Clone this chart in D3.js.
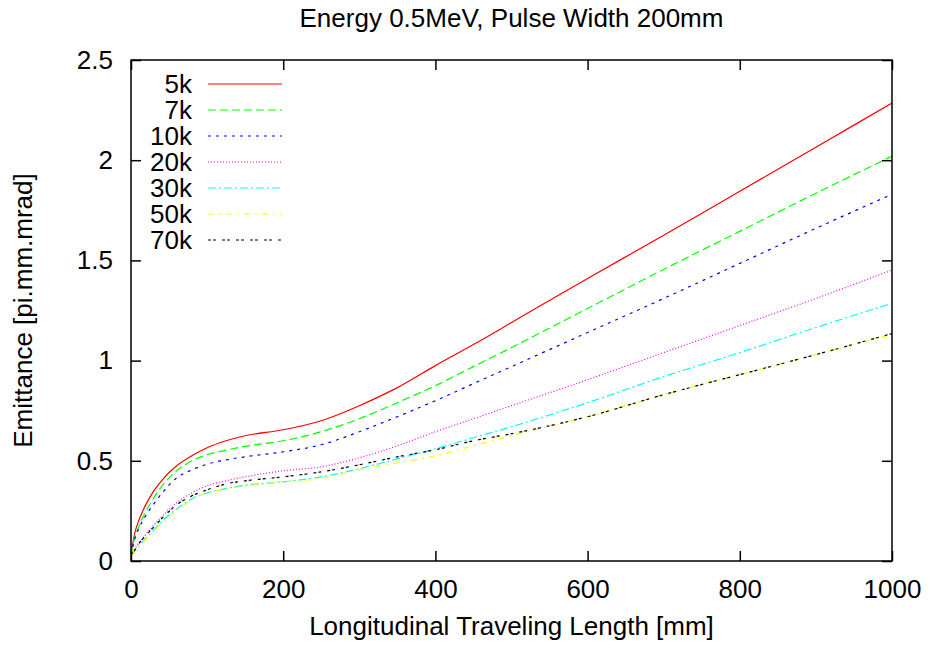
<!DOCTYPE html>
<html>
<head>
<meta charset="utf-8">
<script src="https://cdn.jsdelivr.net/npm/d3@7"></script>
<style>
  body { margin: 0; background: #fff; }
  svg { font-family: "Liberation Sans", Arial, sans-serif; }
</style>
</head>
<body>
<div class="chart"></div>
<script>
//Data
var lengths = [0, 5, 10, 20, 30, 40, 60, 80, 100, 125, 150, 200, 250, 300, 350, 400, 450, 500, 600, 700, 800, 900, 1000];

var seriesNames = ["5k", "7k", "10k", "20k", "30k", "50k", "70k"];

var em5k  = [0.03, 0.14, 0.20, 0.285, 0.35, 0.40, 0.475, 0.525, 0.565, 0.60, 0.625, 0.655, 0.70, 0.775, 0.865, 0.975, 1.08, 1.19, 1.41, 1.625, 1.845, 2.065, 2.285];
var em7k  = [0.03, 0.12, 0.17, 0.25, 0.315, 0.37, 0.45, 0.50, 0.53, 0.553, 0.572, 0.60, 0.645, 0.71, 0.79, 0.875, 0.97, 1.065, 1.26, 1.455, 1.645, 1.835, 2.02];
var em10k = [0.03, 0.11, 0.16, 0.23, 0.285, 0.335, 0.415, 0.455, 0.483, 0.505, 0.52, 0.545, 0.58, 0.645, 0.72, 0.80, 0.885, 0.97, 1.14, 1.31, 1.485, 1.66, 1.83];
var em20k = [0.03, 0.06, 0.09, 0.135, 0.18, 0.22, 0.29, 0.34, 0.375, 0.40, 0.42, 0.45, 0.47, 0.515, 0.575, 0.645, 0.71, 0.775, 0.905, 1.04, 1.175, 1.31, 1.452];
var em30k = [0.03, 0.05, 0.075, 0.115, 0.155, 0.195, 0.26, 0.31, 0.34, 0.362, 0.378, 0.395, 0.42, 0.46, 0.51, 0.56, 0.615, 0.67, 0.79, 0.92, 1.04, 1.165, 1.286];
var em50k = [0.03, 0.045, 0.07, 0.11, 0.15, 0.185, 0.25, 0.305, 0.34, 0.36, 0.374, 0.395, 0.412, 0.455, 0.49, 0.525, 0.575, 0.625, 0.72, 0.83, 0.93, 1.03, 1.13];
var em70k = [0.03, 0.055, 0.085, 0.13, 0.17, 0.21, 0.28, 0.325, 0.355, 0.385, 0.40, 0.42, 0.445, 0.48, 0.52, 0.555, 0.60, 0.635, 0.72, 0.83, 0.93, 1.03, 1.135];

var xTicks = [0, 200, 400, 600, 800, 1000];
var yTicks = [0, 0.5, 1, 1.5, 2, 2.5];

//Styles for each series
var colors = ["#ff0000", "#00ff00", "#0000ff", "#ff00ff", "#00ffff", "#ffff00", "#000000"];
var dashes = ["none", "8,4", "3,5", "1,2", "8,3,2,3", "6,5,2,5", "3,2,3,6"];

var allValues = [em5k, em7k, em10k, em20k, em30k, em50k, em70k];

//Width and height
var w = 930;
var h = 648;
var margin = {top: 60, right: 38, bottom: 87, left: 131};
var fontSize = 26;

var svg = d3.select(".chart")
    .append("svg")
    .attr("width", w)
    .attr("height", h);

//Scales
var xScale = d3.scaleLinear()
    .domain([0, 1000])
    .range([margin.left, w - margin.right]);

var yScale = d3.scaleLinear()
    .domain([0, 2.5])
    .range([h - margin.bottom, margin.top]);

//Axes, ticks pointing inwards on all four sides
svg.append("g")
    .attr("transform", "translate(0, " + (h - margin.bottom) + ")")
    .call(d3.axisBottom(xScale).tickValues(xTicks).tickSizeInner(-10).tickSizeOuter(0).tickPadding(19).tickFormat(d3.format("d")));

svg.append("g")
    .attr("transform", "translate(0, " + margin.top + ")")
    .call(d3.axisTop(xScale).tickValues(xTicks).tickSizeInner(-10).tickSizeOuter(0).tickFormat(""));

svg.append("g")
    .attr("transform", "translate(" + margin.left + ", 0)")
    .call(d3.axisLeft(yScale).tickValues(yTicks).tickSizeInner(-10).tickSizeOuter(0).tickPadding(18).tickFormat(d => d));

svg.append("g")
    .attr("transform", "translate(" + (w - margin.right) + ", 0)")
    .call(d3.axisRight(yScale).tickValues(yTicks).tickSizeInner(-10).tickSizeOuter(0).tickFormat(""));

svg.selectAll(".domain").remove();
svg.selectAll(".tick line").attr("stroke", "#000").attr("stroke-width", 1.5);
svg.selectAll(".tick text").attr("font-size", fontSize).attr("fill", "#000").attr("font-family", "Liberation Sans, Arial, sans-serif");

//Curves
var line = d3.line()
    .x(d => xScale(d[0]))
    .y(d => yScale(d[1]))
    .curve(d3.curveMonotoneX);

svg.append("defs").append("clipPath")
    .attr("id", "plot")
    .append("rect")
    .attr("x", margin.left)
    .attr("y", margin.top)
    .attr("width", w - margin.left - margin.right)
    .attr("height", h - margin.top - margin.bottom);

seriesNames.forEach((name, i) => {
    svg.append("path")
        .datum(lengths.map((x, j) => [x, allValues[i][j]]))
        .attr("clip-path", "url(#plot)")
        .attr("fill", "none")
        .attr("stroke", colors[i])
        .attr("stroke-width", 1.2)
        .attr("stroke-dasharray", dashes[i])
        .attr("d", line);
});

//Frame
svg.append("rect")
    .attr("x", margin.left)
    .attr("y", margin.top)
    .attr("width", w - margin.left - margin.right)
    .attr("height", h - margin.top - margin.bottom)
    .attr("fill", "none")
    .attr("stroke", "#000")
    .attr("stroke-width", 1.5);

//Legend
var legend = svg.append("g");
seriesNames.forEach((name, i) => {
    var ly = 84 + i * 26;
    legend.append("text")
        .attr("x", 192)
        .attr("y", ly)
        .attr("dy", "0.35em")
        .attr("text-anchor", "end")
        .attr("font-size", fontSize)
        .text(name);
    legend.append("line")
        .attr("x1", 208)
        .attr("x2", 282)
        .attr("y1", ly)
        .attr("y2", ly)
        .attr("stroke", colors[i])
        .attr("stroke-width", 1.2)
        .attr("stroke-dasharray", dashes[i]);
});

//Titles
svg.append("text")
    .attr("x", (margin.left + w - margin.right) / 2)
    .attr("y", 27)
    .attr("text-anchor", "middle")
    .attr("font-size", fontSize)
    .text("Energy 0.5MeV, Pulse Width 200mm");

svg.append("text")
    .attr("x", (margin.left + w - margin.right) / 2)
    .attr("y", 635)
    .attr("text-anchor", "middle")
    .attr("font-size", fontSize)
    .text("Longitudinal Traveling Length [mm]");

svg.append("text")
    .attr("transform", "translate(32, " + ((margin.top + h - margin.bottom) / 2) + ") rotate(-90)")
    .attr("text-anchor", "middle")
    .attr("font-size", fontSize)
    .text("Emittance [pi.mm.mrad]");
</script>
</body>
</html>
